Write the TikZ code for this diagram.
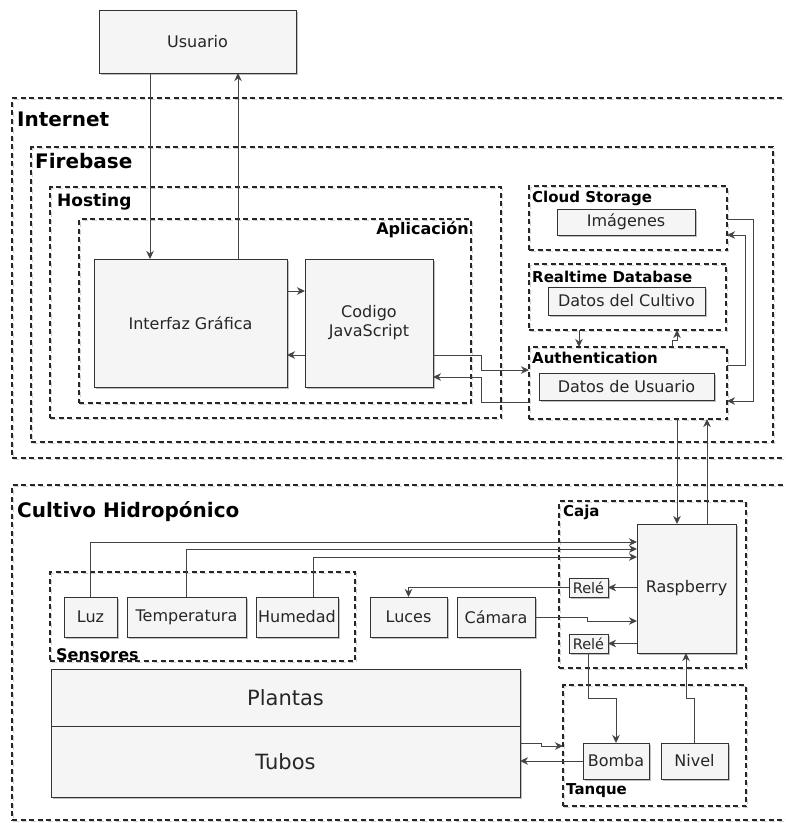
\documentclass[tikz,border=0pt]{standalone}
\usepackage{fontspec}
\setmainfont{DejaVu Sans}
\usetikzlibrary{arrows.meta,shadows}
\definecolor{boxfill}{HTML}{F5F5F5}
\definecolor{linegray}{HTML}{444444}
\begin{document}
\begin{tikzpicture}[x=1pt,y=-1pt,
  box/.style={draw=black!80, fill=boxfill, line width=0.9pt, inner sep=0pt, outer sep=0pt,
    drop shadow={shadow xshift=1.5pt, shadow yshift=-1.5pt, opacity=0.25, fill=black},
    align=center, text=black!85, font=\fontsize{16}{19}\selectfont},
  cont/.style={draw=black!85, line width=1.5pt, dash pattern=on 5pt off 3.5pt, inner sep=0pt, outer sep=0pt, anchor=north west,
    preaction={draw=black!18, line width=1.5pt, dash pattern=on 5pt off 3.5pt, transform canvas={xshift=1.5pt,yshift=-1.5pt}}},
  ttl/.style={font=\bfseries\fontsize{16}{18}\selectfont, anchor=west, inner sep=0pt, text=black},
  bigttl/.style={ttl, font=\bfseries\fontsize{20}{22}\selectfont},
  arr/.style={draw=linegray, line width=0.9pt, -{Stealth[length=8pt,width=7.5pt,inset=2.5pt]}},
]
\useasboundingbox (0,0) rectangle (786,823);

% ---------- containers ----------
\node[cont, minimum width=800pt, minimum height=360pt] (internet) at (12,98) {};
\node[cont, minimum width=742pt, minimum height=295pt] (firebase) at (31,147) {};
\node[cont, minimum width=451pt, minimum height=231pt] (hosting) at (50,187) {};
\node[cont, minimum width=392pt, minimum height=184pt] (aplicacion) at (79,219) {};
\node[cont, minimum width=198pt, minimum height=64pt] (cloud) at (529,186) {};
\node[cont, minimum width=197pt, minimum height=66pt] (realtime) at (529,264) {};
\node[cont, minimum width=198pt, minimum height=72pt] (auth) at (529,347) {};
\node[cont, minimum width=800pt, minimum height=335pt] (cultivoh) at (12,485) {};
\node[cont, minimum width=187pt, minimum height=167pt] (caja) at (559,501) {};
\node[cont, minimum width=305pt, minimum height=89pt] (sensores) at (50,572) {};
\node[cont, minimum width=183pt, minimum height=121pt] (tanque) at (563,685) {};

% ---------- titles ----------
\node[bigttl] (tinternet) at (17,119) {Internet};
\node[bigttl] (tfirebase) at (35,161) {Firebase};
\node[ttl, font=\bfseries\fontsize{17}{19}\selectfont] (thosting) at (57,202) {Hosting};
\node[ttl, anchor=east] (taplicacion) at (469,230) {Aplicación};
\node[ttl, font=\bfseries\fontsize{15}{17}\selectfont] (tcloud) at (532,198) {Cloud Storage};
\node[ttl, font=\bfseries\fontsize{15}{17}\selectfont] (trealtime) at (532,277) {Realtime Database};
\node[ttl, font=\bfseries\fontsize{15}{17}\selectfont] (tauth) at (532,358) {Authentication};
\node[bigttl] (tcultivo) at (17,512) {Cultivo Hidropónico};
\node[ttl, font=\bfseries\fontsize{15}{17}\selectfont] (tcaja) at (563,512) {Caja};
\node[ttl] (tsensores) at (56,655) {Sensores};
\node[ttl, font=\bfseries\fontsize{15}{17}\selectfont] (ttanque) at (566,791) {Tanque};

% ---------- boxes ----------
\node[box, minimum width=197pt, minimum height=63pt] (usuario) at (197.5,41.5) {Usuario};
\node[box, minimum width=193pt, minimum height=128pt] (ig) at (190.5,323) {Interfaz Gráfica};
\node[box, minimum width=128pt, minimum height=128pt] (js) at (369,323) {Codigo\\JavaScript};
\node[box, minimum width=138pt, minimum height=26pt] (imagenes) at (626,222) {Imágenes};
\node[box, minimum width=157pt, minimum height=28pt] (datoscultivo) at (626.5,301) {Datos del Cultivo};
\node[box, minimum width=175pt, minimum height=27pt] (datosusuario) at (626.5,386.5) {Datos de Usuario};
\node[box, minimum width=99pt, minimum height=129pt] (rasp) at (686.5,588.5) {Raspberry};
\node[box, minimum width=39pt, minimum height=19pt, font=\fontsize{14.5}{16}\selectfont] (rele1) at (588.5,587.5) {Relé};
\node[box, minimum width=39pt, minimum height=19pt, font=\fontsize{14.5}{16}\selectfont] (rele2) at (588.5,643.5) {Relé};
\node[box, minimum width=77pt, minimum height=40pt] (luces) at (408.5,617) {Luces};
\node[box, minimum width=78pt, minimum height=40pt] (camara) at (496,617) {Cámara};
\node[box, minimum width=53pt, minimum height=40pt] (luz) at (90.5,617) {Luz};
\node[box, minimum width=119pt, minimum height=40pt] (temp) at (186.5,617) {Temperatura};
\node[box, minimum width=82pt, minimum height=40pt] (hum) at (297,617) {Humedad};
\node[box, minimum width=469pt, minimum height=57pt, font=\fontsize{21}{24}\selectfont] (plantas) at (285.5,697.5) {Plantas};
\node[box, minimum width=469pt, minimum height=71pt, font=\fontsize{21}{24}\selectfont] (tubos) at (285.5,761.5) {Tubos};
\node[box, minimum width=66pt, minimum height=36pt] (bomba) at (616,761) {Bomba};
\node[box, minimum width=67pt, minimum height=36pt] (nivel) at (694.5,761) {Nivel};

% ---------- connectors ----------
\draw[arr] (usuario.south -| 150,0) -- (ig.north -| 150,0);
\draw[arr] (ig.north -| 238,0) -- (usuario.south -| 238,0);
\draw[arr] (ig.east |- 0,291) -- (js.west |- 0,291);
\draw[arr] (js.west |- 0,355) -- (ig.east |- 0,355);
\draw[arr] (js.east |- 0,355) -| (481,370) -- (auth.west |- 0,370);
\draw[arr] (auth.west |- 0,402) -| (481,377) -- (js.east |- 0,377);
\draw[arr] (realtime.south -| 579,0) -- (auth.north -| 579,0);
\draw[arr] (auth.north -| 672,0) -- (672,340) -| (realtime.south -| 677,0);
\draw[arr] (cloud.east |- 0,219) -| (753,401) -- (auth.east |- 0,401);
\draw[arr] (auth.east |- 0,365) -| (745,235) -- (cloud.east |- 0,235);
\draw[arr] (auth.south -| 677,0) -- (rasp.north -| 677,0);
\draw[arr] (rasp.north -| 707,0) -- (auth.south -| 707,0);

\draw[arr] (luz.north) |- (rasp.west |- 0,542);
\draw[arr] (temp.north) |- (rasp.west |- 0,549);
\draw[arr] (hum.north -| 313,0) |- (rasp.west |- 0,557);
\draw[arr] (rasp.west |- rele1.east) -- (rele1.east);
\draw[arr] (rele1.west) -| (luces.north);
\draw[arr] (rasp.west |- rele2.east) -- (rele2.east);
\draw[arr] (camara.east) -| (587,621) -- (rasp.west |- 0,621);
\draw[arr] (rele2.south) |- (616,698) -- (bomba.north);
\draw[arr] (nivel.north) |- (686,698) -- (rasp.south -| 686,0);
\draw[arr] (tubos.east |- 0,743) -| (541,746) -- (tanque.west |- 0,746);
\draw[arr] (bomba.west) -- (tubos.east |- bomba.west);
\end{tikzpicture}
\end{document}
